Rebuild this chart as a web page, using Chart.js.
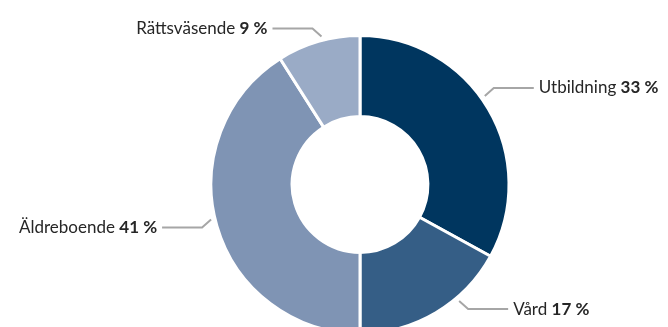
<!DOCTYPE html>
<html>
<head>
<meta charset="utf-8">
<script src="https://cdn.jsdelivr.net/npm/chart.js@4.4.1/dist/chart.umd.min.js"></script>
<style>
  html, body { margin: 0; padding: 0; overflow: hidden; background: #fff; }
  #wrap { width: 668px; height: 333px; position: relative; }
</style>
</head>
<body>
<div id="wrap"><canvas id="myChart"></canvas></div>
<script>
const categories = ['Utbildning', 'Vård', 'Äldreboende', 'Rättsväsende'];
const shares = [33, 17, 41, 9];
const colors = ['#00365f', '#355e86', '#7f94b4', '#9aabc6'];

// leader lines + labels drawn around each slice
const calloutPlugin = {
  id: 'callouts',
  afterDatasetsDraw(chart, args, opts) {
    const { ctx } = chart;
    const meta = chart.getDatasetMeta(0);
    ctx.save();
    meta.data.forEach((arc, i) => {
      const { x, y, startAngle, endAngle, outerRadius } = arc.getProps(
        ['x', 'y', 'startAngle', 'endAngle', 'outerRadius'], true);
      const f = opts.anchor[i];
      const a = startAngle + (endAngle - startAngle) * f;
      const dx = Math.cos(a);
      const dy = Math.sin(a);
      const sx = x + dx * (outerRadius + 4);
      const sy = y + dy * (outerRadius + 4);
      const side = dx >= 0 ? 1 : -1;
      const ex = sx + side * 9;
      const ey = sy + (dy >= 0 ? 8 : -8);
      const hx = ex + side * 40;

      ctx.strokeStyle = '#a6a6a6';
      ctx.lineWidth = 2;
      ctx.beginPath();
      ctx.moveTo(sx, sy);
      ctx.lineTo(ex, ey);
      ctx.lineTo(hx, ey);
      ctx.stroke();

      const name = categories[i] + ' ';
      const val = shares[i] + ' %';
      ctx.fillStyle = '#262626';
      ctx.textBaseline = 'middle';
      ctx.font = '17px Lato';
      const w1 = ctx.measureText(name).width;
      ctx.font = 'bold 17px Lato';
      const w2 = ctx.measureText(val).width;
      const tx = side > 0 ? hx + 5 : hx - 5 - w1 - w2;
      ctx.textAlign = 'left';
      ctx.font = '17px Lato';
      ctx.fillText(name, tx, ey);
      ctx.font = 'bold 17px Lato';
      ctx.fillText(val, tx + w1, ey);
    });
    ctx.restore();
  },
};

new Chart(document.getElementById('myChart'), {
  type: 'doughnut',
  data: {
    labels: categories,
    datasets: [{
      data: shares,
      backgroundColor: colors,
      borderColor: '#ffffff',
      borderWidth: 3,
      hoverOffset: 0,
    }],
  },
  options: {
    responsive: true,
    maintainAspectRatio: false,
    animation: false,
    radius: 149,
    cutout: 67,
    layout: { padding: { top: 36, left: 211, right: 159, bottom: 0 } },
    plugins: {
      legend: { display: false },
      tooltip: { enabled: false },
      callouts: { anchor: [0.46, 0.34, 0.52, 0.55] },
    },
  },
  plugins: [calloutPlugin],
});
</script>
</body>
</html>
